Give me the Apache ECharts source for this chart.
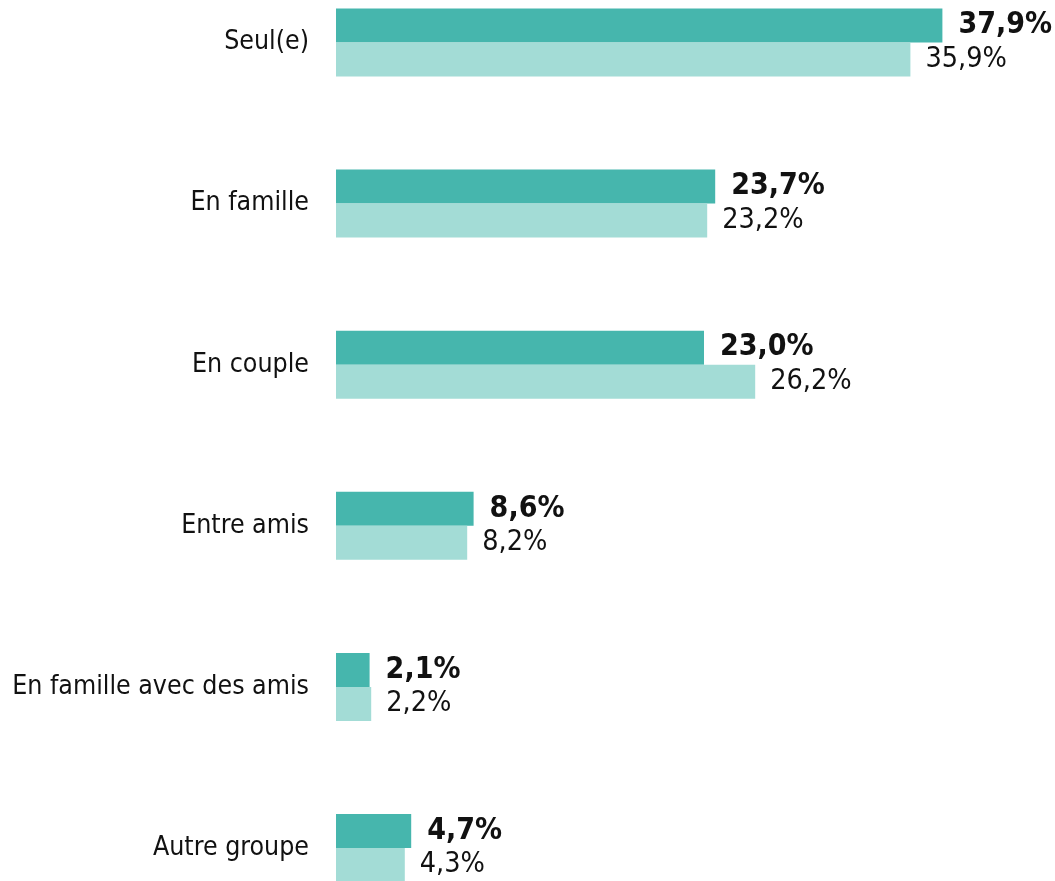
<!DOCTYPE html>
<html><head><meta charset="utf-8">
<script src="https://cdn.jsdelivr.net/npm/echarts@6/dist/echarts.min.js"></script>
<style>html,body{margin:0;padding:0;background:#fff}#c{width:1055px;height:881px}</style>
</head><body><div id="c"></div>
<script>
const categories = ["Seul(e)", "En famille", "En couple", "Entre amis", "En famille avec des amis", "Autre groupe"];
const seriesA = [37.9, 23.7, 23.0, 8.6, 2.1, 4.7];
const seriesB = [35.9, 23.2, 26.2, 8.2, 2.2, 4.3];
const FONT = '"Liberation Sans Narrow", "DejaVu Sans Condensed", sans-serif';
const fmt = p => p.value.toFixed(1).replace('.', ',') + '%';
const chart = echarts.init(document.getElementById('c'));
chart.setOption({
  animation: false,
  grid: {left: 336, width: 640, top: 42.5, height: 805.5},
  xAxis: {type: 'value', min: 0, max: 40, show: false},
  yAxis: {type: 'category', inverse: true, data: categories, boundaryGap: false,
    axisLine: {show: false}, axisTick: {show: false}, splitLine: {show: false},
    axisLabel: {margin: 27, fontSize: 26.5, color: '#111', fontFamily: FONT}},
  series: [
    {type: 'bar', data: seriesA, barWidth: 34, barGap: '0%',
     itemStyle: {color: '#46B6AD'},
     label: {show: true, position: 'right', distance: 16, formatter: fmt,
       fontSize: 30, fontWeight: 'bold', color: '#111', fontFamily: FONT}},
    {type: 'bar', data: seriesB, barWidth: 34,
     itemStyle: {color: '#A3DCD6'},
     label: {show: true, position: 'right', distance: 15, formatter: fmt,
       fontSize: 28.5, color: '#111', fontFamily: FONT}}
  ]
});
</script></body></html>
